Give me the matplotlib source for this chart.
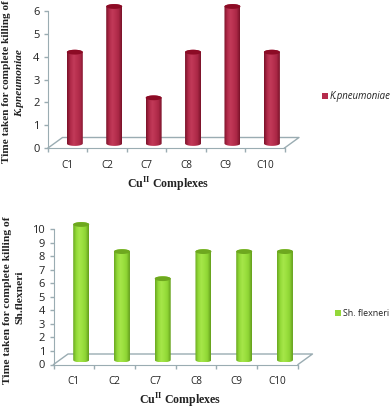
import matplotlib
matplotlib.use("Agg")
import matplotlib.pyplot as plt
import numpy as np
from matplotlib.colors import LinearSegmentedColormap
from matplotlib.patches import Polygon, Rectangle

complexes = ["C1", "C2", "C7", "C8", "C9", "C10"]
kp_values = [4, 6, 2, 4, 6, 4]
sh_values = [10, 8, 6, 8, 8, 8]
kp_ticks = [0, 1, 2, 3, 4, 5, 6]
sh_ticks = [0, 1, 2, 3, 4, 5, 6, 7, 8, 9, 10]

W, H = 392, 409
AXIS_COLOR = "#9aacb2"
TICK_FONT = "Open Sans"

plt.rcParams["mathtext.fontset"] = "custom"
plt.rcParams["mathtext.rm"] = "Liberation Serif"
plt.rcParams["mathtext.bf"] = "Liberation Serif:bold"

fig = plt.figure(figsize=(W / 100, H / 100), dpi=100)


def px_text(x, y, s, **kw):
    fig.text(x / W, 1 - y / H, s, ha=kw.pop("ha", "center"), va="center", **kw)


def cylinder_chart(box, values, ticks, colors, top_color):
    # box is left, top, right, bottom in pixels
    left, top, right, bottom = box
    ax = fig.add_axes([left / W, 1 - bottom / H, (right - left) / W, (bottom - top) / H])
    ax.set_xlim(0, len(values))
    ax.set_ylim(0, max(ticks))
    ux = (right - left) / len(values)
    uy = (bottom - top) / max(ticks)

    # depth of the 3d floor, in data units
    dx, dy = 14.5 / ux, 10.5 / uy
    floor = [(0, 0), (dx, dy), (len(values) + dx, dy), (len(values), 0)]
    xs, ys = zip(*floor)
    ax.plot(xs, ys, color=AXIS_COLOR, lw=1, clip_on=False, zorder=1)

    cmap = LinearSegmentedColormap.from_list("cyl", colors)
    grad = np.linspace(0, 1, 64).reshape(1, -1)
    half_w = 8 / ux
    half_h = 2.4 / uy
    ox, oy = 0.18, 4.5 / uy
    t = np.linspace(0, np.pi, 40)
    for i, v in enumerate(values):
        cx = i + 0.5 + ox
        base = oy
        tip = v + oy
        px = np.concatenate([cx + half_w * np.cos(t), cx - half_w * np.cos(t)])
        py = np.concatenate([tip + half_h * np.sin(t), base - half_h * np.sin(t)])
        outline = Polygon(np.column_stack([px, py]), transform=ax.transData, fc="none", ec="none")
        ax.add_patch(outline)
        im = ax.imshow(grad, cmap=cmap, aspect="auto", zorder=3,
                       extent=[cx - half_w, cx + half_w, base - half_h, tip + half_h])
        im.set_clip_box(fig.bbox)
        im.set_clip_path(outline)
        cap_y = tip + half_h * np.sin(np.linspace(0, 2 * np.pi, 60))
        cap_x = cx + half_w * np.cos(np.linspace(0, 2 * np.pi, 60))
        ax.fill(cap_x, cap_y, color=top_color, zorder=4, clip_on=False, lw=0)
    ax.set_xlim(0, len(values))
    ax.set_ylim(0, max(ticks))

    for s in ["top", "right"]:
        ax.spines[s].set_visible(False)
    for s in ["left", "bottom"]:
        ax.spines[s].set_color(AXIS_COLOR)
    ax.patch.set_alpha(0)
    ax.set_yticks(ticks)
    ax.set_xticks(np.arange(len(values) + 1))
    ax.set_xticklabels([])
    ax.tick_params(axis="both", color=AXIS_COLOR, length=3, width=1)
    ax.tick_params(axis="y", labelsize=8, pad=3, labelcolor="#222222")
    for lab in ax.get_yticklabels():
        lab.set_family(TICK_FONT)
    for i, name in enumerate(complexes):
        ax.annotate(name, (i + 0.5, 0), xycoords="data", xytext=(0, -17),
                    textcoords="offset pixels", ha="center", va="center",
                    fontsize=7.2, family=TICK_FONT, color="#222222")
    return ax


cylinder_chart((48, 11, 284.5, 148), kp_values, kp_ticks,
               ["#7a1229", "#b02a49", "#c23a59", "#b8304f", "#a92745", "#7a1229"], "#8c0b25")
cylinder_chart((53.5, 229, 298, 364.5), sh_values, sh_ticks,
               ["#6aa820", "#93da38", "#a6e64a", "#9be03e", "#8dd334", "#639e1c"], "#6ea81f")

serif = dict(family="Liberation Serif", weight="bold", color="#222222")
px_text(6.5, 82, "Time taken for complete killing of", rotation=90, fontsize=8.15, **serif)
px_text(20, 83, "K.pneumoniae", rotation=90, fontsize=8.15, style="italic", **serif)
px_text(7.5, 300, "Time taken for complete killing of", rotation=90, fontsize=8.25, **serif)
px_text(20, 297, "Sh.flexneri", rotation=90, fontsize=8.25, **serif)
px_text(168, 185, r"Cu$^{\mathbf{II}}$ Complexes", fontsize=8.6, **serif)
px_text(180, 401, r"Cu$^{\mathbf{II}}$ Complexes", fontsize=8.6, **serif)

fig.add_artist(Rectangle((322 / W, 1 - 98.5 / H), 5.5 / W, 5.5 / H, transform=fig.transFigure,
                         fc="#b52c4c", ec="none"))
px_text(330, 96, "K.pneumoniae", ha="left", fontsize=6.9, style="italic",
        family=TICK_FONT, color="#222222")
fig.add_artist(Rectangle((335 / W, 1 - 315.5 / H), 5.5 / W, 5.5 / H, transform=fig.transFigure,
                         fc="#94d83a", ec="none"))
px_text(343, 313, "Sh. flexneri", ha="left", fontsize=6.4, family=TICK_FONT, color="#222222")

fig.savefig("out.png", dpi=100)
